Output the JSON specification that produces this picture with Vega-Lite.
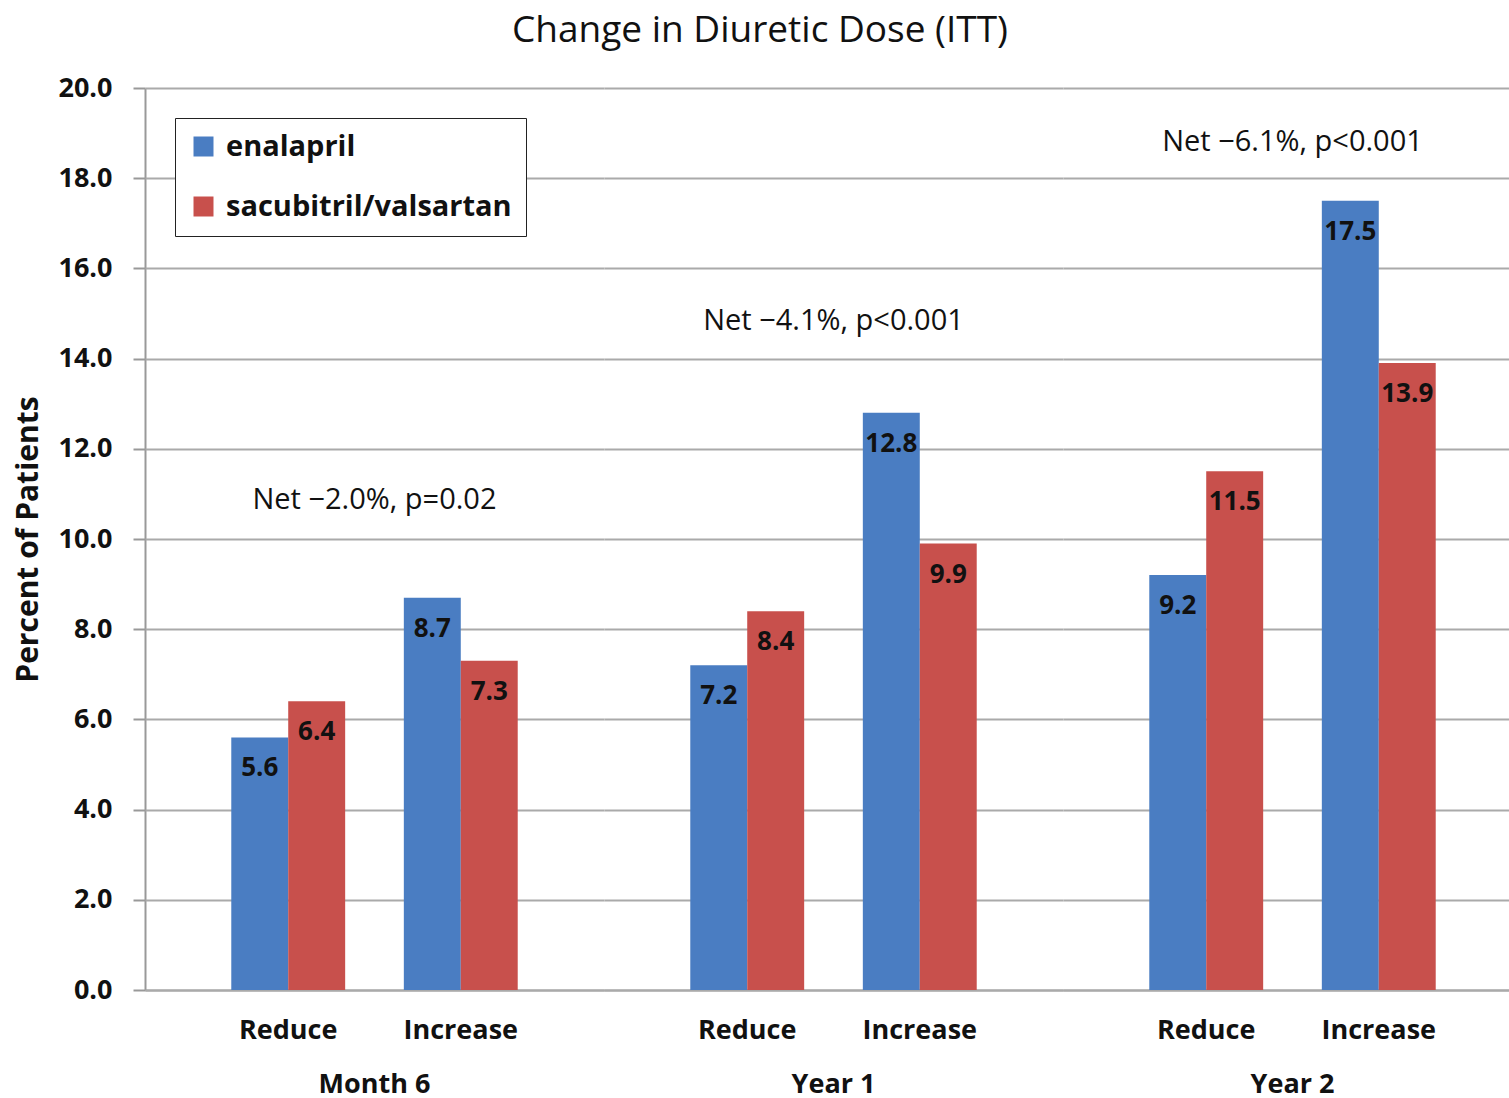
{
  "$schema": "https://vega.github.io/schema/vega-lite/v6.json",
  "background": "white",
  "padding": {"left": 13, "top": 12, "right": 5, "bottom": 5},
  "title": {"text": "Change in Diuretic Dose (ITT)", "font": "Open Sans", "fontSize": 37, "fontWeight": "normal", "color": "#111", "anchor": "middle", "offset": 24, "dx": -8},
  "data": {"values": [
    {"type": "bar", "period": "Month 6", "category": "Reduce", "series": "enalapril", "value": 5.6},
    {"type": "bar", "period": "Month 6", "category": "Reduce", "series": "sacubitril/valsartan", "value": 6.4},
    {"type": "bar", "period": "Month 6", "category": "Increase", "series": "enalapril", "value": 8.7},
    {"type": "bar", "period": "Month 6", "category": "Increase", "series": "sacubitril/valsartan", "value": 7.3},
    {"type": "bar", "period": "Year 1", "category": "Reduce", "series": "enalapril", "value": 7.2},
    {"type": "bar", "period": "Year 1", "category": "Reduce", "series": "sacubitril/valsartan", "value": 8.4},
    {"type": "bar", "period": "Year 1", "category": "Increase", "series": "enalapril", "value": 12.8},
    {"type": "bar", "period": "Year 1", "category": "Increase", "series": "sacubitril/valsartan", "value": 9.9},
    {"type": "bar", "period": "Year 2", "category": "Reduce", "series": "enalapril", "value": 9.2},
    {"type": "bar", "period": "Year 2", "category": "Reduce", "series": "sacubitril/valsartan", "value": 11.5},
    {"type": "bar", "period": "Year 2", "category": "Increase", "series": "enalapril", "value": 17.5},
    {"type": "bar", "period": "Year 2", "category": "Increase", "series": "sacubitril/valsartan", "value": 13.9},
    {"type": "note", "period": "Month 6", "label": "Net −2.0%, p=0.02", "value": 10.86},
    {"type": "note", "period": "Year 1", "label": "Net −4.1%, p<0.001", "value": 14.83},
    {"type": "note", "period": "Year 2", "label": "Net −6.1%, p<0.001", "value": 18.8}
  ]},
  "facet": {
    "column": {
      "field": "period", "type": "nominal", "sort": ["Month 6", "Year 1", "Year 2"], "title": null,
      "header": {"labelOrient": "bottom", "labelFont": "Open Sans", "labelFontSize": 27, "labelFontWeight": "bold", "labelColor": "#111", "labelPadding": 29}
    }
  },
  "spacing": 0,
  "spec": {
    "width": 459,
    "height": 902,
    "layer": [
      {
        "transform": [{"filter": "datum.type == 'bar'"}],
        "mark": {"type": "bar"},
        "encoding": {
          "x": {"field": "category", "type": "nominal", "sort": ["Reduce", "Increase"], "title": null,
            "scale": {"paddingInner": 0.34, "paddingOuter": 0.5},
            "axis": {"labelAngle": 0, "ticks": false, "labelFont": "Open Sans", "labelFontSize": 27, "labelFontWeight": "bold", "labelColor": "#111", "labelPadding": 27, "domainColor": "#999", "domainWidth": 2}},
          "xOffset": {"field": "series", "type": "nominal", "sort": ["enalapril", "sacubitril/valsartan"]},
          "y": {"field": "value", "type": "quantitative", "title": "Percent of Patients",
            "scale": {"domain": [0, 20]},
            "axis": {"values": [0, 2, 4, 6, 8, 10, 12, 14, 16, 18, 20], "format": ".1f", "labelFont": "Open Sans", "labelFontSize": 27, "labelFontWeight": "bold", "labelColor": "#111", "labelPadding": 21, "tickSize": 12, "tickColor": "#999", "tickWidth": 2, "domainColor": "#999", "domainWidth": 2, "gridColor": "#aaa", "gridWidth": 2, "titleFont": "Open Sans", "titleFontSize": 30, "titleFontWeight": "bold", "titleColor": "#111", "titlePadding": 14}},
          "color": {"field": "series", "type": "nominal", "sort": ["enalapril", "sacubitril/valsartan"],
            "scale": {"range": ["#4a7dc2", "#c8504c"]},
            "legend": {"title": null, "orient": "none", "legendX": 30, "legendY": 30, "direction": "vertical", "symbolType": "square", "symbolSize": 400, "symbolStrokeWidth": 0, "labelFont": "Open Sans", "labelFontSize": 29, "labelFontWeight": "bold", "labelColor": "#111", "labelLimit": 600, "rowPadding": 30, "strokeColor": "#222", "fillColor": "white", "padding": 14, "labelOffset": 8}}
        }
      },
      {
        "transform": [{"filter": "datum.type == 'bar'"}],
        "mark": {"type": "text", "font": "Open Sans", "fontSize": 26, "fontWeight": "bold", "color": "#111", "baseline": "middle", "dy": 31},
        "encoding": {
          "x": {"field": "category", "type": "nominal", "sort": ["Reduce", "Increase"]},
          "xOffset": {"field": "series", "type": "nominal", "sort": ["enalapril", "sacubitril/valsartan"]},
          "y": {"field": "value", "type": "quantitative"},
          "text": {"field": "value", "type": "quantitative", "format": ".1f"}
        }
      },
      {
        "transform": [{"filter": "datum.type == 'note'"}],
        "mark": {"type": "text", "font": "Open Sans", "fontSize": 29, "color": "#111", "baseline": "middle"},
        "encoding": {
          "y": {"field": "value", "type": "quantitative"},
          "text": {"field": "label", "type": "nominal"}
        }
      }
    ]
  },
  "config": {"view": {"stroke": null}}
}
